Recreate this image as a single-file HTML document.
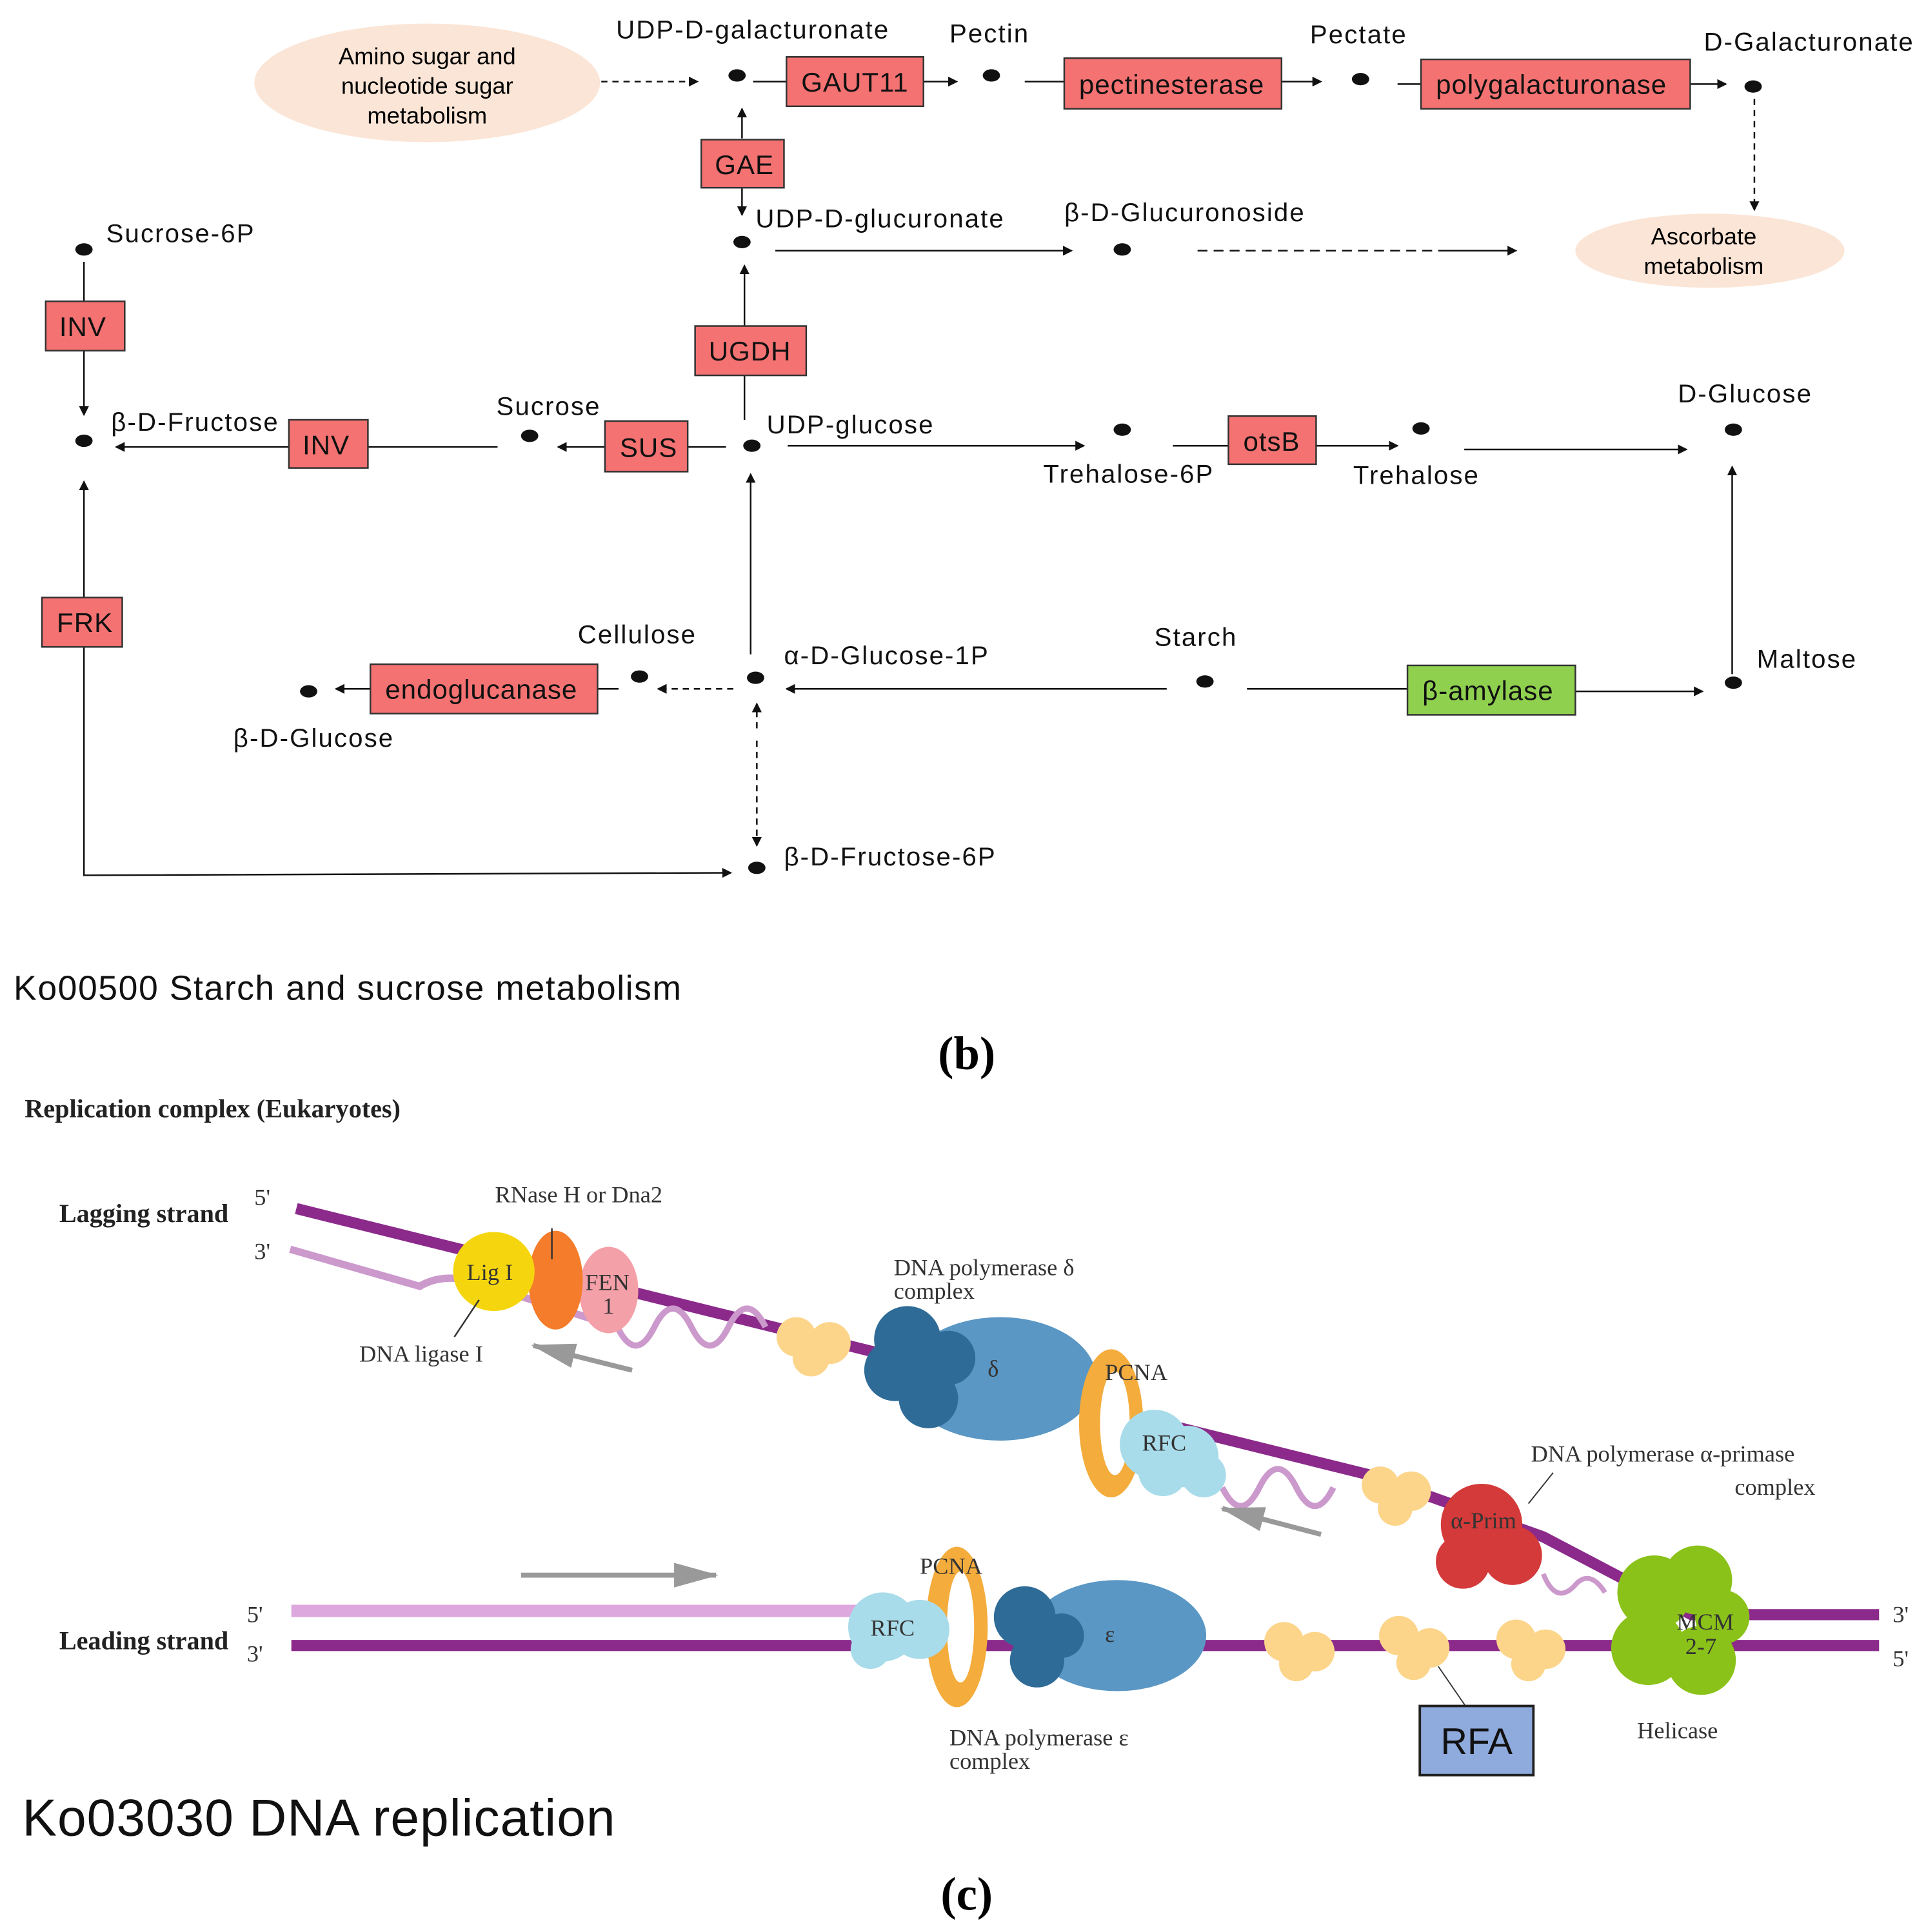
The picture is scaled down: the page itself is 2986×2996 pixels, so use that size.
<!DOCTYPE html>
<html><head><meta charset="utf-8"><style>
html,body{margin:0;padding:0;background:#fff;}
svg{display:block;font-family:"Liberation Sans",sans-serif;}
.l text{font-size:21px;fill:#111;letter-spacing:1.1px;}
.b text{font-size:22px;fill:#111;letter-spacing:0.5px;}
.s, .s text{font-family:"Liberation Serif",serif;font-size:19px;fill:#333;}
.ser{font-family:"Liberation Serif",serif;}
</style></head><body>
<svg width="2986" height="2996" viewBox="0 0 1560 1565" xmlns="http://www.w3.org/2000/svg">
<defs>
<marker id="a" markerWidth="8" markerHeight="8" refX="7" refY="4" orient="auto" markerUnits="userSpaceOnUse"><path d="M0,0 L8,4 L0,8z" fill="#111"/></marker>
<marker id="g" markerWidth="36" markerHeight="20" refX="34" refY="10" orient="auto" markerUnits="userSpaceOnUse"><path d="M0,0 L36,10 L0,20z" fill="#999"/></marker>
</defs>
<rect width="1560" height="1565" fill="#fff"/>
<g stroke="#111" stroke-width="1.3" fill="none">
<path d="M487,66 H565" stroke-dasharray="5,4" marker-end="url(#a)"/>
<path d="M610,66 H637"/><path d="M748,66 H775" marker-end="url(#a)"/>
<path d="M830,66 H862"/><path d="M1038,66 H1070" marker-end="url(#a)"/>
<path d="M1132,68 H1151"/><path d="M1369,68 H1398" marker-end="url(#a)"/>
<path d="M1421,80 V170" stroke-dasharray="5,4" marker-end="url(#a)"/>
<path d="M601,112 V88" marker-end="url(#a)"/><path d="M601,152 V174" marker-end="url(#a)"/>
<path d="M628,203 H868" marker-end="url(#a)"/>
<path d="M970,203 H1165" stroke-dasharray="8,5"/><path d="M1165,203 H1228" marker-end="url(#a)"/>
<path d="M603,264 V215" marker-end="url(#a)"/><path d="M603,304 V340"/>
<path d="M68,212 V244"/><path d="M68,284 V336" marker-end="url(#a)"/>
<path d="M234,362 H94" marker-end="url(#a)"/>
<path d="M403,362 H298"/>
<path d="M490,362 H452" marker-end="url(#a)"/>
<path d="M588,362 H557"/>
<path d="M638,361 H878" marker-end="url(#a)"/>
<path d="M950,361 H995"/><path d="M1066,361 H1132" marker-end="url(#a)"/>
<path d="M1186,364 H1366" marker-end="url(#a)"/>
<path d="M1403,546 V378" marker-end="url(#a)"/>
<path d="M608,530 V384" marker-end="url(#a)"/>
<path d="M68,484 V390" marker-end="url(#a)"/>
<path d="M68,524 V709 L592,707" marker-end="url(#a)"/>
<path d="M945,558 H637" marker-end="url(#a)"/>
<path d="M1010,558 H1140"/><path d="M1276,560 H1379" marker-end="url(#a)"/>
<path d="M594,558 H533" stroke-dasharray="5,4" marker-end="url(#a)"/>
<path d="M501,558 H484"/>
<path d="M300,558 H272" marker-end="url(#a)"/>
<path d="M613,590 V570" stroke-dasharray="5,4" marker-end="url(#a)"/>
<path d="M613,600 V685" stroke-dasharray="5,4" marker-end="url(#a)"/>
</g>
<ellipse cx="346" cy="67" rx="140" ry="48" fill="#fbe5d6"/>
<text x="346" y="52" text-anchor="middle" font-size="19">Amino sugar and</text>
<text x="346" y="76" text-anchor="middle" font-size="19">nucleotide sugar</text>
<text x="346" y="100" text-anchor="middle" font-size="19">metabolism</text>
<ellipse cx="1385" cy="203" rx="109" ry="30" fill="#fbe5d6"/>
<text x="1380" y="198" text-anchor="middle" font-size="19">Ascorbate</text>
<text x="1380" y="222" text-anchor="middle" font-size="19">metabolism</text>
<g fill="#111">
<ellipse cx="597" cy="61" rx="7" ry="5"/><ellipse cx="803" cy="61" rx="7" ry="5"/>
<ellipse cx="1102" cy="64" rx="7" ry="5"/><ellipse cx="1420" cy="70" rx="7" ry="5"/>
<ellipse cx="601" cy="196" rx="7" ry="5"/><ellipse cx="909" cy="202" rx="7" ry="5"/>
<ellipse cx="68" cy="202" rx="7" ry="5"/><ellipse cx="68" cy="357" rx="7" ry="5"/>
<ellipse cx="429" cy="353" rx="7" ry="5"/><ellipse cx="609" cy="361" rx="7" ry="5"/>
<ellipse cx="909" cy="348" rx="7" ry="5"/><ellipse cx="1151" cy="347" rx="7" ry="5"/>
<ellipse cx="1404" cy="348" rx="7" ry="5"/><ellipse cx="250" cy="560" rx="7" ry="5"/>
<ellipse cx="518" cy="548" rx="7" ry="5"/><ellipse cx="612" cy="549" rx="7" ry="5"/>
<ellipse cx="976" cy="552" rx="7" ry="5"/><ellipse cx="1404" cy="553" rx="7" ry="5"/>
<ellipse cx="613" cy="703" rx="7" ry="5"/>
</g>
<g stroke="#333" stroke-width="1.3" fill="#f47272">
<rect x="637" y="46" width="111" height="40"/><rect x="862" y="47" width="176" height="41"/>
<rect x="1151" y="48" width="218" height="40"/><rect x="568" y="113" width="67" height="39"/>
<rect x="563" y="264" width="90" height="40"/><rect x="37" y="244" width="64" height="40"/>
<rect x="234" y="340" width="64" height="39"/><rect x="490" y="341" width="67" height="41"/>
<rect x="995" y="337" width="71" height="39"/><rect x="34" y="484" width="65" height="40"/>
<rect x="300" y="538" width="184" height="40"/>
<rect x="1140" y="539" width="136" height="40" fill="#8fd14f"/>
</g>
<g class="b">
<text x="649" y="74">GAUT11</text><text x="874" y="76">pectinesterase</text>
<text x="1163" y="76">polygalacturonase</text><text x="579" y="141">GAE</text>
<text x="574" y="292">UGDH</text><text x="48" y="272">INV</text>
<text x="245" y="368">INV</text><text x="502" y="370">SUS</text>
<text x="1007" y="365">otsB</text><text x="46" y="512">FRK</text>
<text x="312" y="566">endoglucanase</text><text x="1152" y="567">β-amylase</text>
</g>
<g class="l">
<text x="499" y="31">UDP-D-galacturonate</text><text x="769" y="34">Pectin</text>
<text x="1061" y="35">Pectate</text><text x="1380" y="41">D-Galacturonate</text>
<text x="612" y="184">UDP-D-glucuronate</text><text x="862" y="179">β-D-Glucuronoside</text>
<text x="86" y="196">Sucrose-6P</text><text x="90" y="349">β-D-Fructose</text>
<text x="402" y="336">Sucrose</text><text x="621" y="351">UDP-glucose</text>
<text x="845" y="391">Trehalose-6P</text><text x="1096" y="392">Trehalose</text>
<text x="1359" y="326">D-Glucose</text><text x="468" y="521">Cellulose</text>
<text x="635" y="538">α-D-Glucose-1P</text><text x="935" y="523">Starch</text>
<text x="1423" y="541">Maltose</text><text x="189" y="605">β-D-Glucose</text>
<text x="635" y="701">β-D-Fructose-6P</text>
</g>
<text x="11" y="810" font-size="28" fill="#111" letter-spacing="0.8">Ko00500 Starch and sucrose metabolism</text>
<text x="783" y="866" text-anchor="middle" class="ser" font-size="38" font-weight="bold">(b)</text>
<text x="20" y="905" class="ser" font-size="21" font-weight="bold" fill="#222">Replication complex (Eukaryotes)</text>
<text x="48" y="990" class="ser" font-size="21" font-weight="bold" fill="#222">Lagging strand</text>
<text x="48" y="1336" class="ser" font-size="21" font-weight="bold" fill="#222">Leading strand</text>
<g class="s"><text x="206" y="976">5'</text><text x="206" y="1020">3'</text>
<text x="200" y="1314">5'</text><text x="200" y="1346">3'</text>
<text x="1533" y="1314">3'</text><text x="1533" y="1350">5'</text>
<text x="401" y="974">RNase H or Dna2</text><text x="291" y="1103">DNA ligase I</text>
<text x="724" y="1033">DNA polymerase δ</text><text x="724" y="1052">complex</text>
<text x="1240" y="1184">DNA polymerase α-primase</text><text x="1405" y="1211">complex</text>
<text x="769" y="1414">DNA polymerase ε</text><text x="769" y="1433">complex</text>
<text x="1326" y="1408">Helicase</text></g>
<path d="M240,979 L1110,1195 L1250,1245 L1370,1308 H1522" stroke="#8b2a8b" stroke-width="9" fill="none"/>
<path d="M235,1012 L340,1042 Q360,1030 390,1040 L500,1075" stroke="#cc99cc" stroke-width="6" fill="none"/>
<path d="M500,1075 q15,30 30,0 q15,-30 30,0 q15,30 30,0 q15,-30 30,0" stroke="#cc99cc" stroke-width="5" fill="none"/>
<path d="M990,1205 q15,30 30,0 q15,-30 30,0 q15,30 30,0" stroke="#cc99cc" stroke-width="5" fill="none"/>
<path d="M236,1305 H720" stroke="#dda8dd" stroke-width="10"/>
<path d="M236,1333 H1522" stroke="#8b2a8b" stroke-width="9"/>
<path d="M1250,1275 q10,25 25,10 q12,-15 25,5" stroke="#cc99cc" stroke-width="4" fill="none"/>
<path d="M512,1110 L432,1090" stroke="#999" stroke-width="4" marker-end="url(#g)"/>
<path d="M1070,1243 L990,1222" stroke="#999" stroke-width="4" marker-end="url(#g)"/>
<path d="M422,1276 H580" stroke="#999" stroke-width="4" marker-end="url(#g)"/>
<g fill="#fcd58a"><circle cx="645" cy="1083" r="16"/><circle cx="672" cy="1088" r="17"/><circle cx="657" cy="1100" r="15"/>
<circle cx="1118" cy="1203" r="15"/><circle cx="1143" cy="1208" r="16"/><circle cx="1130" cy="1222" r="14"/>
<circle cx="1040" cy="1330" r="16"/><circle cx="1065" cy="1338" r="16"/><circle cx="1050" cy="1348" r="14"/>
<circle cx="1133" cy="1325" r="16"/><circle cx="1158" cy="1335" r="16"/><circle cx="1145" cy="1347" r="14"/>
<circle cx="1228" cy="1328" r="16"/><circle cx="1252" cy="1336" r="16"/><circle cx="1238" cy="1348" r="14"/></g>
<ellipse cx="493" cy="1045" rx="24" ry="35" fill="#f4a0a8"/>
<ellipse cx="450" cy="1037" rx="22" ry="40" fill="#f57c2a"/>
<ellipse cx="400" cy="1030" rx="33" ry="32" fill="#f5d60e"/>
<g class="s"><text x="378" y="1037">Lig I</text><text x="474" y="1045">FEN</text><text x="488" y="1064">1</text></g>
<path d="M447,995 V1020 M388,1053 L368,1083" stroke="#333" stroke-width="1.3"/>
<ellipse cx="810" cy="1117" rx="78" ry="50" fill="#5a97c4"/>
<g fill="#2e6b97"><circle cx="735" cy="1085" r="27"/><circle cx="725" cy="1110" r="25"/><circle cx="752" cy="1133" r="24"/><circle cx="768" cy="1100" r="22"/></g>
<ellipse cx="900" cy="1153" rx="26" ry="60" fill="#f4ac3c"/><ellipse cx="903" cy="1153" rx="12" ry="42" fill="#fff"/>
<g fill="#a9dcea"><circle cx="935" cy="1170" r="28"/><circle cx="962" cy="1180" r="25"/><circle cx="975" cy="1195" r="18"/><circle cx="942" cy="1192" r="20"/></g>
<g class="s"><text x="800" y="1115">δ</text><text x="925" y="1175">RFC</text><text x="895" y="1118">PCNA</text></g>
<g fill="#d43a3a"><circle cx="1200" cy="1235" r="33"/><circle cx="1225" cy="1260" r="24"/><circle cx="1185" cy="1265" r="22"/></g>
<path d="M1238,1218 L1258,1193" stroke="#333"/>
<g fill="#8ac21a"><circle cx="1340" cy="1290" r="30"/><circle cx="1375" cy="1280" r="28"/><circle cx="1335" cy="1335" r="30"/><circle cx="1378" cy="1345" r="28"/><circle cx="1395" cy="1310" r="22"/></g>
<g class="s"><text x="1175" y="1238">α-Prim</text><text x="1358" y="1320">MCM</text><text x="1365" y="1340">2-7</text></g>
<ellipse cx="905" cy="1325" rx="72" ry="45" fill="#5a97c4"/>
<g fill="#2e6b97"><circle cx="830" cy="1310" r="25"/><circle cx="840" cy="1345" r="22"/><circle cx="860" cy="1325" r="18"/></g>
<ellipse cx="775" cy="1318" rx="25" ry="65" fill="#f4ac3c"/><ellipse cx="778" cy="1318" rx="11" ry="45" fill="#fff"/>
<g fill="#a9dcea"><circle cx="715" cy="1318" r="28"/><circle cx="745" cy="1320" r="24"/><circle cx="705" cy="1336" r="16"/></g>
<g class="s"><text x="895" y="1330">ε</text><text x="705" y="1325">RFC</text><text x="745" y="1275">PCNA</text></g>
<path d="M1165,1350 L1187,1382" stroke="#333"/>
<rect x="1150" y="1382" width="92" height="56" fill="#8faadc" stroke="#222" stroke-width="2"/>
<text x="1196" y="1421" text-anchor="middle" font-size="30" fill="#111">RFA</text>
<text x="18" y="1487" font-size="42" fill="#111" letter-spacing="0.5">Ko03030 DNA replication</text>
<text x="783" y="1547" text-anchor="middle" class="ser" font-size="38" font-weight="bold">(c)</text>
</svg>
</body></html>
